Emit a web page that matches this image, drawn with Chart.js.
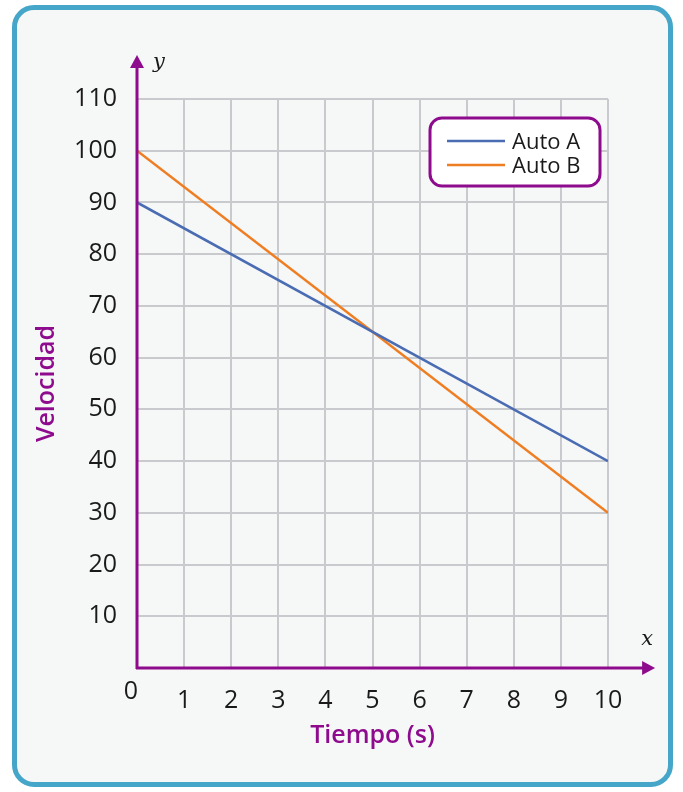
<!DOCTYPE html>
<html>
<head>
<meta charset="utf-8">
<script src="https://cdn.jsdelivr.net/npm/chart.js@4/dist/chart.umd.min.js"></script>
<style>
  html, body { margin: 0; padding: 0; background: #ffffff; }
  #frame {
    position: absolute; left: 12px; top: 5px; width: 651px; height: 772px;
    border: 5px solid #45a6c9; border-radius: 22px; background: #f6f7f7;
  }
  #wrap { position: absolute; left: 0; top: 0; width: 683px; height: 792px; }
</style>
</head>
<body>
<div id="frame"></div>
<div id="wrap"><canvas id="myChart"></canvas></div>
<script>
const times = [0, 10];
const autoA = [90, 40];
const autoB = [100, 30];
const xTicks = [0, 1, 2, 3, 4, 5, 6, 7, 8, 9, 10];
const yTicks = [0, 10, 20, 30, 40, 50, 60, 70, 80, 90, 100, 110];

const purple = '#8e0b8e';
const fontFam = '"Open Sans", Lato, sans-serif';

// axes with arrows, the lone "0", italic x / y and the boxed legend
const extras = {
    id: 'extras',
    afterDraw(chart) {
        const ctx = chart.ctx;
        const xs = chart.scales.x, ys = chart.scales.y;
        const ox = xs.getPixelForValue(0), oy = ys.getPixelForValue(0);
        const xEnd = xs.getPixelForValue(11), yEnd = ys.getPixelForValue(118.5);
        ctx.save();
        ctx.strokeStyle = purple;
        ctx.fillStyle = purple;
        ctx.lineWidth = 3;
        ctx.beginPath();
        ctx.moveTo(ox - 1, oy);
        ctx.lineTo(xEnd - 8, oy);
        ctx.moveTo(ox, oy + 1);
        ctx.lineTo(ox, yEnd + 8);
        ctx.stroke();
        ctx.beginPath();
        ctx.moveTo(xEnd, oy);
        ctx.lineTo(xEnd - 13, oy - 7);
        ctx.lineTo(xEnd - 13, oy + 7);
        ctx.closePath();
        ctx.fill();
        ctx.beginPath();
        ctx.moveTo(ox, yEnd);
        ctx.lineTo(ox - 7, yEnd + 13);
        ctx.lineTo(ox + 7, yEnd + 13);
        ctx.closePath();
        ctx.fill();

        ctx.fillStyle = '#1a1a1a';
        ctx.font = '25px ' + fontFam;
        ctx.textAlign = 'center';
        ctx.textBaseline = 'middle';
        ctx.fillText('0', ox - 6, oy + 24);

        ctx.font = 'italic 21px "DejaVu Serif", serif';
        ctx.fillText('y', ox + 22, yEnd + 8);
        ctx.fillText('x', xEnd - 8, oy - 28);

        // legend
        const ca = chart.chartArea;
        const bx = ca.right - 178, by = ca.top + 19, bw = 170, bh = 68;
        ctx.beginPath();
        ctx.roundRect(bx, by, bw, bh, 12);
        ctx.fillStyle = '#ffffff';
        ctx.fill();
        ctx.lineWidth = 3;
        ctx.strokeStyle = purple;
        ctx.stroke();
        ctx.font = '22px ' + fontFam;
        ctx.textAlign = 'left';
        chart.data.datasets.forEach((ds, i) => {
            const ly = by + 23 + i * 24;
            ctx.strokeStyle = ds.borderColor;
            ctx.lineWidth = 2.5;
            ctx.beginPath();
            ctx.moveTo(bx + 17, ly);
            ctx.lineTo(bx + 75, ly);
            ctx.stroke();
            ctx.fillStyle = '#1a1a1a';
            ctx.fillText(ds.label, bx + 82, ly + 2);
        });
        ctx.restore();
    }
};

const data = {
    datasets: [{
        label: 'Auto A',
        data: times.map((t, i) => ({ x: t, y: autoA[i] })),
        borderColor: '#4a6cb3',
        borderWidth: 2.5,
        pointRadius: 0,
    }, {
        label: 'Auto B',
        data: times.map((t, i) => ({ x: t, y: autoB[i] })),
        borderColor: '#ef7d22',
        borderWidth: 2.5,
        pointRadius: 0,
    }]
};

const config = {
    type: 'line',
    data: data,
    options: {
        responsive: false,
        animation: false,
        layout: { padding: { left: 0, top: 99, right: 75, bottom: 0 } },
        plugins: { legend: { display: false }, tooltip: { enabled: false } },
        scales: {
            x: {
                type: 'linear', min: 0, max: 10,
                afterFit: s => { s.height = 124; },
                afterBuildTicks: s => { s.ticks = xTicks.map(v => ({ value: v })); },
                ticks: {
                    padding: 18, color: '#1a1a1a', font: { size: 25, family: fontFam },
                    maxRotation: 0, callback: v => (v === 0 ? '' : v)
                },
                grid: { color: '#c9cacd', lineWidth: 2, drawTicks: false },
                border: { display: false },
                title: {
                    display: true, text: 'Tiempo (s)', color: purple,
                    font: { size: 25, weight: 600, family: fontFam },
                    padding: { top: 0, bottom: 41 }
                }
            },
            y: {
                min: 0, max: 110,
                afterFit: s => { s.width = 137; },
                afterBuildTicks: s => { s.ticks = yTicks.map(v => ({ value: v })); },
                ticks: {
                    padding: 20, color: '#1a1a1a', font: { size: 25, family: fontFam },
                    callback: v => (v === 0 ? '' : v)
                },
                grid: { color: '#c9cacd', lineWidth: 2, drawTicks: false },
                border: { display: false },
                title: {
                    display: true, text: 'Velocidad', color: purple,
                    font: { size: 25, weight: 600, family: fontFam },
                    padding: { top: 32, bottom: 0 }
                }
            }
        }
    },
    plugins: [extras]
};

const canvas = document.getElementById('myChart');
canvas.width = 683;
canvas.height = 792;
new Chart(canvas, config);
</script>
</body>
</html>
